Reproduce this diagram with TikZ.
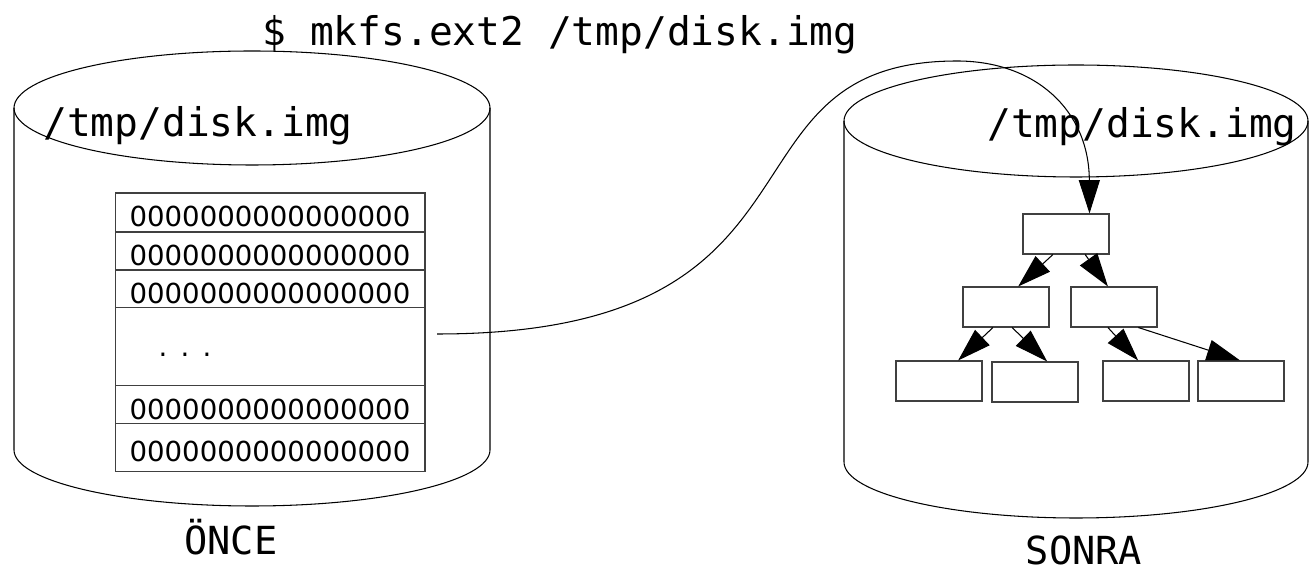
\documentclass[tikz,border=0pt]{standalone}
\usepackage{fontspec}
\setmainfont{DejaVu Sans}
\setmonofont{DejaVu Sans Mono}
\usetikzlibrary{positioning,calc,arrows.meta}

\begin{document}
\begin{tikzpicture}[
  x=0.02cm, y=-0.02cm,
  line width=0.6pt,
  ttl/.style={font=\ttfamily\fontsize{22.5}{22.5}\selectfont, anchor=base, inner sep=0pt},
  zerorow/.style={draw=black!75, minimum width=6.2cm, minimum height=0.76cm,
    inner sep=0pt, outer sep=0pt, text height=16pt, text depth=0pt,
    font=\fontsize{15.7}{15.7}\selectfont},
  blk/.style={draw=black!75, minimum width=1.72cm, minimum height=0.8cm, inner sep=0pt},
  bigtip/.style={-{Triangle[length=19pt,width=12pt]}}
]

\useasboundingbox (0,0) rectangle (1309,573);

% Left cylinder
\draw (252,108) ellipse [x radius=238, y radius=57];
\draw (14,108) -- (14,450) arc [start angle=180, end angle=0, x radius=238, y radius=56] -- (490,108);

% Right cylinder
\draw (1076,121) ellipse [x radius=232, y radius=56];
\draw (844,121) -- (844,462) arc [start angle=180, end angle=0, x radius=232, y radius=56] -- (1308,121);

% Command and names
\node[ttl] (cmd) at (560,46) {\$ mkfs.ext2 /tmp/disk.img};
\node[ttl] (lname) at (198,137) {/tmp/disk.img};
\node[ttl] (rname) at (1142,138) {/tmp/disk.img};
\node[ttl, font=\ttfamily\fontsize{22}{22}\selectfont] (before) at (231,555) {ÖNCE};
\node[ttl, font=\ttfamily\fontsize{22}{22}\selectfont] (after) at (1084,565) {SONRA};

% Zeroed image
\node[zerorow, anchor=north, minimum height=0.78cm] (z1) at (270,193) {0000000000000000};
\node[zerorow, below=0pt of z1] (z2) {0000000000000000};
\node[zerorow, below=0pt of z2] (z3) {0000000000000000};
\node[zerorow, below=0pt of z3, minimum height=1.56cm] (gap) {};
\node[anchor=base, inner sep=0pt, font=\fontsize{15.7}{15.7}\selectfont] (dots) at (185,357)
  {.\hspace{7.5pt}.\hspace{7.5pt}.};
\node[zerorow, below=0pt of gap] (z4) {0000000000000000};
\node[zerorow, below=0pt of z4, minimum height=0.96cm] (z5) {0000000000000000};

% File system tree
\node[blk] (root) at (1066,234) {};
\node[blk] (l) at (1006,307) {};
\node[blk] (r) at (1114,307) {};
\node[blk] (ll) at (939,381) {};
\node[blk] (lr) at (1035,382) {};
\node[blk] (rl) at (1146,381) {};
\node[blk] (rr) at (1241,381) {};

\foreach \a/\p/\b/\q in {root/0.35/l/0.64, root/0.72/r/0.43,
                         l/0.35/ll/0.72, l/0.57/lr/0.64,
                         r/0.43/rl/0.41, r/0.78/rr/0.49} {
  \draw[bigtip] ($(\a.south west)!\p!(\a.south east)$) -- ($(\b.north west)!\q!(\b.north east)$);
}

% mkfs
\coordinate (src) at (437,334);
\draw[bigtip] (src) .. controls (850,334) and (706,61) .. (957,61)
  .. controls (1035,61) and (1089,110) .. ($(root.north west)!0.77!(root.north east)$);

\end{tikzpicture}
\end{document}
